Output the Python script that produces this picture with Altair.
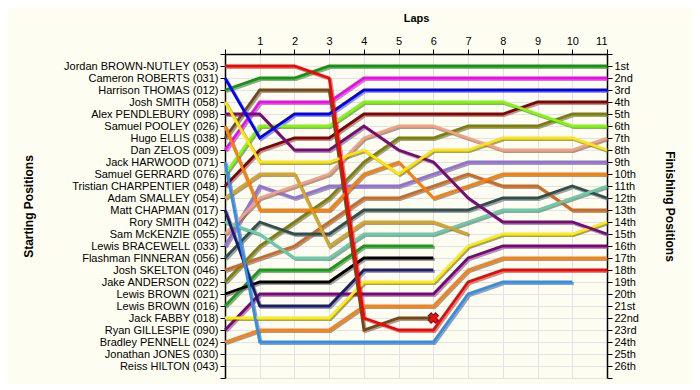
import json
import altair as alt
import pandas as pd

laps = list(range(12))

names = [
    "Jordan BROWN-NUTLEY (053)", "Cameron ROBERTS (031)", "Harrison THOMAS (012)",
    "Josh SMITH (058)", "Alex PENDLEBURY (098)", "Samuel POOLEY (026)",
    "Hugo ELLIS (038)", "Dan ZELOS (009)", "Jack HARWOOD (071)",
    "Samuel GERRARD (076)", "Tristian CHARPENTIER (048)", "Adam SMALLEY (054)",
    "Matt CHAPMAN (017)", "Rory SMITH (042)", "Sam McKENZIE (055)",
    "Lewis BRACEWELL (033)", "Flashman FINNERAN (056)", "Josh SKELTON (046)",
    "Jake ANDERSON (022)", "Lewis BROWN (021)", "Lewis BROWN (016)",
    "Jack FABBY (018)", "Ryan GILLESPIE (090)", "Bradley PENNELL (024)",
    "Jonathan JONES (030)", "Reiss HILTON (043)",
]

# position at lap 0, 1, 2, ... (lists end when the driver retired)
positions = [
    [1, 1, 1, 2, 22, 23, 23, 19, 18, 18, 18, 18],
    [2, 7, 5, 5, 3, 3, 3, 3, 3, 3, 3, 3],
    [3, 2, 2, 1, 1, 1, 1, 1, 1, 1, 1, 1],
    [4, 9, 9, 9, 8, 10, 8, 8, 7, 7, 7, 8],
    [5, 5, 8, 8, 6, 8, 9, 12, 14, 14, 14, 15],
    [6, 13, 13, 13, 10, 9, 12, 11, 10, 10, 10, 10],
    [7, 3, 3, 3, 23, 22, 22],
    [8, 4, 4, 4, 2, 2, 2, 2, 2, 2, 2, 2],
    [9, 24, 24, 24, 24, 24, 24, 20, 19, 19, 19],
    [10, 6, 6, 6, 4, 4, 4, 4, 4, 5, 6, 6],
    [11, 8, 7, 7, 5, 5, 5, 5, 5, 4, 4, 4],
    [12, 10, 10, 16, 14, 14, 14, 15],
    [13, 21, 21, 21, 18, 18, 18],
    [14, 15, 17, 17, 15, 15, 15, 14, 13, 13, 12, 11],
    [15, 12, 11, 10, 7, 6, 6, 7, 8, 8, 8, 7],
    [16, 11, 12, 11, 11, 11, 10, 9, 9, 9, 9, 9],
    [17, 14, 15, 15, 13, 13, 13, 13, 12, 12, 11, 12],
    [18, 17, 16, 14, 12, 12, 11, 10, 11, 11, 13, 13],
    [19, 16, 14, 12, 9, 7, 7, 6, 6, 6, 5, 5],
    [20, 19, 19, 19, 17, 17, 17],
    [21, 18, 18, 18, 16, 16, 16],
    [22, 22, 22, 22, 19, 19, 19, 16, 15, 15, 15, 14],
    [23, 20, 20, 20, 20, 20, 20, 17, 16, 16, 16, 16],
    [24, 23, 23, 23, 21, 21, 21, 18, 17, 17, 17, 17],
]

colors = [
    "#ff0000", "#0000ff", "#0a9a0a", "#ffe600", "#7a0a7a", "#ff8000",
    "#7b4513", "#ff00ff", "#2e8fef", "#7cfc00", "#8b0000", "#daa520",
    "#1c1c6e", "#66cdaa", "#f8a07c", "#9370db", "#2f4f4f", "#d2691e",
    "#808000", "#000000", "#10a010", "#ffee00", "#800080", "#ff8010",
]

ordinals = [
    "1st", "2nd", "3rd", "4th", "5th", "6th", "7th", "8th", "9th", "10th",
    "11th", "12th", "13th", "14th", "15th", "16th", "17th", "18th", "19th",
    "20th", "21st", "22nd", "23rd", "24th", "25th", "26th",
]

crash_lap = [6]
crash_pos = [22]

rows = []
for i in reversed(range(len(positions))):
    for lap, p in enumerate(positions[i]):
        rows.append({"driver": names[i], "lap": lap, "pos": p})
df = pd.DataFrame(rows)
crash = pd.DataFrame({"lap": crash_lap, "pos": crash_pos})

FONT = "Liberation Sans"
GRID = "#e3e3e3"

x_enc = alt.X(
    "lap:Q",
    scale=alt.Scale(domain=[0, 11], nice=False, zero=False),
    axis=alt.Axis(
        orient="top", values=laps,
        labelExpr="datum.value == 0 ? '' : datum.value",
        title="Laps", titleFontWeight="bold", titleFontSize=11,
        titlePadding=12, labelFontSize=11, labelPadding=3,
        grid=True, gridColor=GRID, gridWidth=1,
        domainColor="#000000", domainWidth=1.5,
        tickColor="#000000", tickSize=5, tickWidth=1,
        labelColor="#000000", titleColor="#000000",
    ),
)

y_scale = alt.Scale(domain=[0, 27], reverse=True, nice=False, zero=False)
left_expr = "(" + json.dumps(names) + ")[datum.value - 1] || ''"
right_expr = "(" + json.dumps(ordinals) + ")[datum.value - 1] || ''"

y_left = alt.Y(
    "pos:Q", scale=y_scale,
    axis=alt.Axis(
        orient="left", values=list(range(28)), labelExpr=left_expr,
        title="Starting Positions", titleFontWeight="bold", titleFontSize=12,
        titleAngle=270, titleX=-190, titleY=152,
        labelFontSize=11, labelPadding=2, labelColor="#000000",
        grid=True, gridColor=GRID, gridWidth=1,
        domainColor="#000000", domainWidth=1.5,
        tickColor="#000000", tickSize=5, tickWidth=1,
        titleColor="#000000",
    ),
)
y_right = alt.Y(
    "pos:Q", scale=y_scale,
    axis=alt.Axis(
        orient="right", values=list(range(28)), labelExpr=right_expr,
        title="Finishing Positions", titleFontWeight="bold", titleFontSize=12,
        titleAngle=90, titleX=55, titleY=152,
        labelFontSize=11, labelPadding=2, labelColor="#000000",
        grid=False,
        domainColor="#000000", domainWidth=1.5,
        tickColor="#000000", tickSize=5, tickWidth=1,
        titleColor="#000000",
    ),
)

shadow = alt.Chart(df).mark_line(
    strokeWidth=3, color="#606060", opacity=0.6, xOffset=1.5, yOffset=1.5,
).encode(x=x_enc, y=y_left, detail="driver:N")

lines = alt.Chart(df).mark_line(strokeWidth=2.8).encode(
    x=x_enc, y=y_right,
    color=alt.Color("driver:N", scale=alt.Scale(domain=names[:24], range=colors), legend=None),
    detail="driver:N",
)

marker = alt.Chart(crash).mark_point(
    shape="cross", angle=45, filled=True, size=110,
    fill="#e81010", stroke="#801010", strokeWidth=1, opacity=1,
).encode(x=x_enc, y=alt.Y("pos:Q", scale=y_scale, axis=None))

chart = alt.layer(shadow, lines, marker).resolve_axis(y="independent").properties(
    width=382, height=324,
    padding={"left": 217, "top": 46, "right": 85, "bottom": 6},
    autosize=alt.AutoSizeParams(type="none"),
    background="#fdfdf1",
).configure(font=FONT).configure_view(stroke=None)

chart.save("out.html", embed_options={"renderer": "svg", "actions": False})
